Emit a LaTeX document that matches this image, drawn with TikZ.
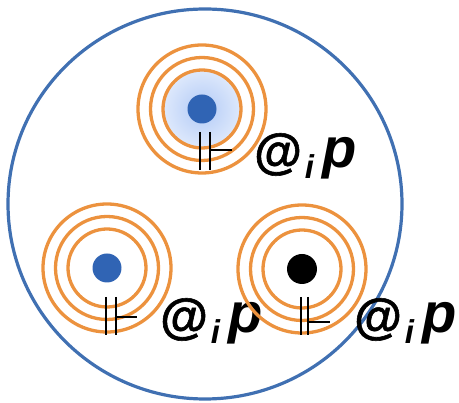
\documentclass[tikz,border=0pt]{standalone}
\usepackage{fontspec}
\setmainfont{Liberation Sans}
\newfontface\heavyat{Liberation Sans Bold}[FakeBold=1.2]
\definecolor{bigblue}{RGB}{64,112,178}
\definecolor{ringorange}{RGB}{236,146,62}
\definecolor{dotblue}{RGB}{48,100,180}
\definecolor{haloin}{RGB}{178,202,246}
\definecolor{haloout}{RGB}{222,233,252}
\tikzset{
  ring/.style={draw=ringorange, line width=3.3pt},
  bigring/.style={draw=bigblue, line width=3.2pt},
  tick/.style={draw=black, line width=1.8pt},
  atlabel/.style={anchor=base west, inner sep=0pt, font=\bfseries}
}
\newcommand{\atip}{{\fontsize{49}{49}\heavyat @}\kern3pt\raisebox{-11pt}{\fontsize{33}{33}\selectfont\itshape i}\kern8pt{\fontsize{56}{56}\selectfont\itshape p}}
\begin{document}
\begin{tikzpicture}[x=1pt,y=-1pt]
\useasboundingbox (0,0) rectangle (459,403);
% big circle
\draw[bigring] (205,204) ellipse [x radius=197pt, y radius=195pt];
% top cluster
\shade[inner color=haloin, outer color=haloout] (202,109) circle (39pt);
\foreach \r in {39,51.5,64} \draw[ring] (202,109) circle (\r pt);
\node[circle, fill=dotblue, minimum size=29pt, inner sep=0pt] (dtop) at (202,109) {};
\coordinate (t1a) at (200,132); \coordinate (t1b) at (200,170);
\coordinate (t2a) at (210,132); \coordinate (t2b) at (210,170);
\coordinate (t3a) at (210,150); \coordinate (t3b) at (232,150);
\draw[tick] (t1a) -- (t1b); \draw[tick] (t2a) -- (t2b); \draw[tick] (t3a) -- (t3b);
\node[atlabel] (ltop) at (254,168) {\atip};
% bottom-left cluster
\foreach \r in {39,51.5,64} \draw[ring] (107,268) circle (\r pt);
\node[circle, fill=dotblue, minimum size=29pt, inner sep=0pt] (dleft) at (107,268) {};
\coordinate (l1a) at (106,297); \coordinate (l1b) at (106,335);
\coordinate (l2a) at (116,297); \coordinate (l2b) at (116,335);
\coordinate (l3a) at (116,317); \coordinate (l3b) at (137,317);
\draw[tick] (l1a) -- (l1b); \draw[tick] (l2a) -- (l2b); \draw[tick] (l3a) -- (l3b);
\node[atlabel] (lleft) at (160,333) {\atip};
% bottom-right cluster
\foreach \r in {39,51.5,64} \draw[ring] (302,269) circle (\r pt);
\node[circle, fill=black, minimum size=30pt, inner sep=0pt] (dright) at (302,269) {};
\coordinate (r1a) at (301,297); \coordinate (r1b) at (301,335);
\coordinate (r2a) at (308,297); \coordinate (r2b) at (308,335);
\coordinate (r3a) at (308,322); \coordinate (r3b) at (330,322);
\draw[tick] (r1a) -- (r1b); \draw[tick] (r2a) -- (r2b); \draw[tick] (r3a) -- (r3b);
\node[atlabel] (lright) at (354,333) {\atip};
\end{tikzpicture}
\end{document}
